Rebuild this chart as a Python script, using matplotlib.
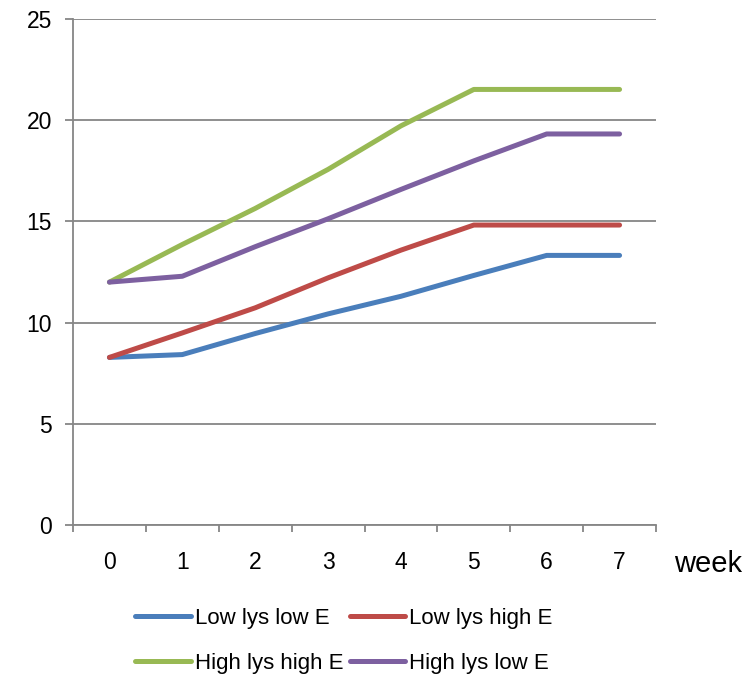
import matplotlib.pyplot as plt
from matplotlib.lines import Line2D

weeks = [0, 1, 2, 3, 4, 5, 6, 7]
low_lys_low_e = [8.28, 8.42, 9.46, 10.43, 11.3, 12.33, 13.32, 13.32]
low_lys_high_e = [8.28, 9.49, 10.73, 12.21, 13.58, 14.82, 14.82, 14.82]
high_lys_high_e = [12.0, 13.86, 15.64, 17.57, 19.72, 21.52, 21.52, 21.52]
high_lys_low_e = [12.0, 12.29, 13.75, 15.13, 16.58, 17.99, 19.32, 19.32]

series = [
    ('Low lys low E', low_lys_low_e, '#4a7ebb'),
    ('Low lys high E', low_lys_high_e, '#be4b48'),
    ('High lys high E', high_lys_high_e, '#98b954'),
    ('High lys low E', high_lys_low_e, '#7d60a0'),
]

GRAY = '#868686'
plt.rcParams['font.family'] = ['Liberation Sans', 'DejaVu Sans']

fig = plt.figure(figsize=(7.53, 6.79), dpi=100)
ax = fig.add_axes([73 / 753, 1 - 525 / 679, 583 / 753, 506 / 679])

handles = {}
for name, vals, color in series:
    ax.plot(weeks, vals, color=color, lw=3.6, solid_capstyle='round',
            solid_joinstyle='round', zorder=3)
    handles[name] = Line2D([], [], color=color, lw=3.6, solid_capstyle='round', label=name)

ax.set_xlim(-0.5, 7.5)
ax.set_ylim(0, 25)
ax.set_yticks(range(0, 26, 5))
ax.set_xticks(weeks)
ax.set_xticks([w - 0.5 for w in weeks] + [7.5], minor=True)
ax.tick_params(axis='x', which='major', length=0, pad=19, labelsize=16.5)
ax.tick_params(axis='x', which='minor', length=5, color=GRAY, width=1.3)
ax.tick_params(axis='y', length=6, color=GRAY, width=1.3, labelsize=16.5, pad=9)
ax.grid(axis='y', color=GRAY, lw=1.3, zorder=1)

for side in ('top', 'right'):
    ax.spines[side].set_visible(False)
for side in ('left', 'bottom'):
    ax.spines[side].set_color(GRAY)
    ax.spines[side].set_linewidth(1.3)

fig.text(708 / 753, 1 - 564 / 679, 'week', fontsize=21, ha='center', va='center')

# legend fills column by column, so order entries to read row by row
order = ['Low lys low E', 'High lys high E', 'Low lys high E', 'High lys low E']
fig.legend(handles=[handles[n] for n in order], ncol=2, loc='center',
           bbox_to_anchor=(344 / 753, 1 - 641 / 679), frameon=False,
           handlelength=2.5, handletextpad=0.18, columnspacing=0.3, labelspacing=1.1,
           borderpad=0, prop={'size': 16})

fig.savefig('out.png', dpi=100)
